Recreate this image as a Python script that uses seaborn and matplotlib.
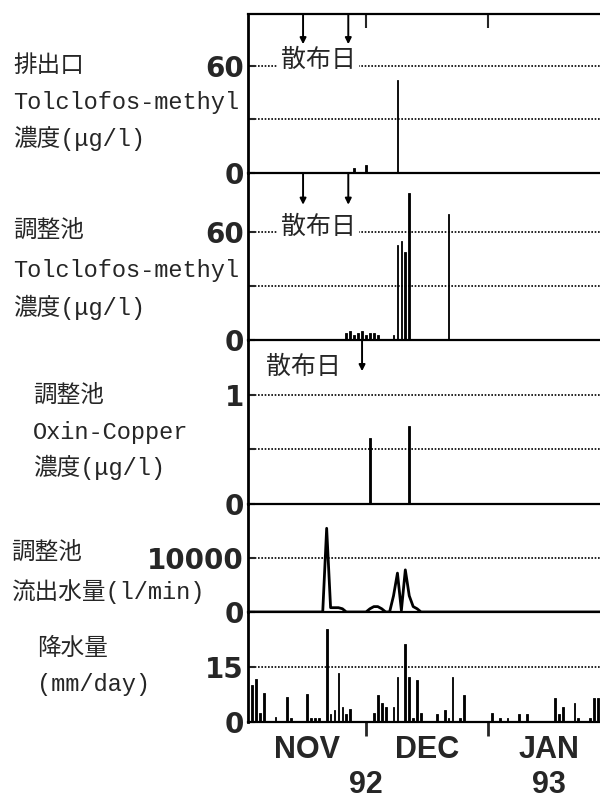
import numpy as np
import pandas as pd
import matplotlib
matplotlib.use("Agg")
import matplotlib.pyplot as plt
import seaborn as sns

sns.set_style("white")
plt.rcParams["font.family"] = ["Liberation Sans", "Noto Sans CJK JP", "DejaVu Sans"]

# ---------------- data (x = days since 1 Nov 1992) ----------------
month_tick_days = [30, 61]
month_labels = ["NOV", "DEC", "JAN"]
month_label_days = [15, 45.5, 76.5]
year_labels = ["92", "93"]
year_label_days = [30, 76.5]

spray_days_tolclofos = [14, 25.5]
spray_days_oxin = [29]

outlet_days = [27, 30, 38]
outlet_tolclofos = [3, 4.5, 52]

pond_days = [25, 26, 27, 28, 29, 30, 31, 32, 33, 37, 38, 39, 40, 41, 51]
pond_tolclofos = [4, 5, 3, 4, 5, 3, 4, 4, 3, 3, 53, 55, 49, 82, 70]

oxin_days = [31, 41]
oxin_copper = [0.6, 0.71]

flow_days = [0, 19, 20, 21, 22, 23, 24, 25, 30, 31, 32, 33, 34, 35, 36, 37, 38, 39,
             40, 41, 42, 43, 44, 89.5]
flow_vals = [0, 0, 15500, 800, 800, 800, 600, 0, 0, 600, 1000, 1000, 600, 0, 0, 3000,
             7200, 300, 7800, 3000, 1000, 600, 0, 0]

rain_days = [1, 2, 3, 4, 7, 10, 11, 15, 16, 17, 18, 20, 21, 22, 23, 24, 25, 26, 32, 33,
             34, 35, 37, 38, 40, 41, 42, 43, 44, 48, 50, 51, 52, 54, 55, 62, 64, 66, 69,
             71, 78, 79, 80, 83, 84, 87, 88, 89]
rain_vals = [10.1, 11.7, 2.4, 7.8, 1.3, 6.7, 1.0, 7.6, 1.0, 1.0, 1.0, 25.3, 2.2, 3.3,
             13.5, 4.2, 2.2, 3.5, 2.4, 7.4, 5.1, 4.2, 4.2, 12.3, 21.4, 12.3, 1.0, 11.4,
             2.4, 2.2, 3.3, 1.0, 12.3, 1.0, 7.4, 2.4, 1.0, 1.0, 2.2, 2.2, 6.5, 2.2, 4.2,
             5.1, 1.0, 1.0, 6.5, 6.5]

panel_labels = [
    ["排出口", "Tolclofos-methyl", "濃度(μg/l)"],
    ["調整池", "Tolclofos-methyl", "濃度(μg/l)"],
    ["調整池", "Oxin-Copper", "濃度(μg/l)"],
    ["調整池", "流出水量(l/min)"],
    ["降水量", "(mm/day)"],
]
panel_yticks = [[0, 30, 60], [0, 30, 60], [0, 0.5, 1], [0, 10000], [0, 15]]
panel_yticklabels = [["0", "", "60"], ["0", "", "60"], ["0", "", "1"],
                     ["0", "10000"], ["0", "15"]]
spray_text = "散布日"

# ---------------- layout / style ----------------
W, H = 600, 800
edges_px = [14, 173, 340, 504, 612, 722]
left_px = 248
ylims = [(0, 89), (0, 93), (0, 1.5), (0, 20000), (0, 30)]
label_pos = [
    [(13, 65), (13, 102), (13, 138)],
    [(13, 230), (13, 270), (13, 307)],
    [(33, 395), (33, 432), (33, 467)],
    [(11, 552), (11, 592)],
    [(37, 648), (37, 685)],
]
label_family = ["Liberation Mono", "Noto Sans CJK JP"]
cjk_family = ["Noto Sans CJK JP", "DejaVu Sans"]
grid_ls = (0, (1, 1))

fig = plt.figure(figsize=(W / 100, H / 100), dpi=100)
axes = []
for i in range(5):
    top, bot = edges_px[i], edges_px[i + 1]
    ax = fig.add_axes([left_px / W, 1 - bot / H, 1 - left_px / W, (bot - top) / H])
    axes.append(ax)


def spikes(ax, days, vals, w_days=0.5):
    df = pd.DataFrame({"day": days, "val": vals})
    d = np.sort(np.asarray(days, dtype=float))
    mind = np.min(np.diff(d)) if len(d) > 1 else 1.0
    sns.barplot(data=df, x="day", y="val", native_scale=True, width=w_days / mind,
                color="black", edgecolor="black", linewidth=0.6, saturation=1,
                errorbar=None, ax=ax, zorder=3)


spikes(axes[0], outlet_days, outlet_tolclofos, 0.45)
spikes(axes[1], pond_days, pond_tolclofos, 0.45)
spikes(axes[2], oxin_days, oxin_copper, 0.45)
sns.lineplot(x=flow_days, y=flow_vals, ax=axes[3], color="black", lw=2, zorder=3)
spikes(axes[4], rain_days, rain_vals, 0.45)

for i, ax in enumerate(axes):
    ax.set_xlim(0, 89.5)
    ax.set_ylim(*ylims[i])
    ax.set_xlabel("")
    ax.set_ylabel("")
    ax.set_yticks(panel_yticks[i], panel_yticklabels[i], fontsize=20,
                  fontweight="bold", family="DejaVu Sans")
    ax.tick_params(axis="y", direction="in", length=5, width=1.5, pad=3, left=True)
    ax.yaxis.grid(True, linestyle=grid_ls, color="black", lw=1.2)
    ax.xaxis.grid(False)
    ax.set_xticks(month_tick_days, ["", ""])
    ax.tick_params(axis="x", bottom=False, top=False)
    ax.patch.set_alpha(0)
    for s in ["left", "bottom", "top", "right"]:
        ax.spines[s].set_color("black")
    ax.spines["left"].set_linewidth(2)
    ax.spines["bottom"].set_linewidth(1.6)
    ax.spines["right"].set_visible(False)
    ax.spines["top"].set_visible(i == 0)
    ax.spines["top"].set_linewidth(1.6)
    for (px, py), txt in zip(label_pos[i], panel_labels[i]):
        fig.text(px / W, 1 - py / H, txt, ha="left", va="center", fontsize=17,
                 family=label_family)

# top month ticks on first panel
axes[0].tick_params(axis="x", top=True, direction="in", length=10, width=1.5)
# bottom month ticks on last panel
axes[4].tick_params(axis="x", bottom=True, direction="out", length=10, width=2)

# spray-date arrows and label
for ax, days in [(axes[0], spray_days_tolclofos), (axes[1], spray_days_tolclofos),
                 (axes[2], spray_days_oxin)]:
    for d in days:
        ax.annotate("", xy=(d, 0.81), xytext=(d, 1.0), xycoords=ax.get_xaxis_transform(),
                    textcoords=ax.get_xaxis_transform(),
                    arrowprops=dict(arrowstyle="-|>", lw=1.4, color="black",
                                    mutation_scale=9, shrinkA=0, shrinkB=0))

for ax, xd, ya in [(axes[0], 17.9, 0.71), (axes[1], 17.9, 0.677), (axes[2], 14, 0.835)]:
    ax.text(xd, ya, spray_text, transform=ax.get_xaxis_transform(), ha="center",
            va="center", fontsize=18, family=cjk_family, zorder=5,
            bbox=dict(facecolor="white", edgecolor="none", pad=2))

# month and year labels
xt = axes[4].get_xaxis_transform()
for d, m in zip(month_label_days, month_labels):
    axes[4].text(d, -0.25, m, transform=xt, ha="center", va="center", fontsize=22,
                 fontweight="bold", family="Liberation Sans")
for d, y in zip(year_label_days, year_labels):
    axes[4].text(d, -0.57, y, transform=xt, ha="center", va="center", fontsize=22,
                 fontweight="bold", family="Liberation Sans")

fig.savefig("out.png", dpi=100)
